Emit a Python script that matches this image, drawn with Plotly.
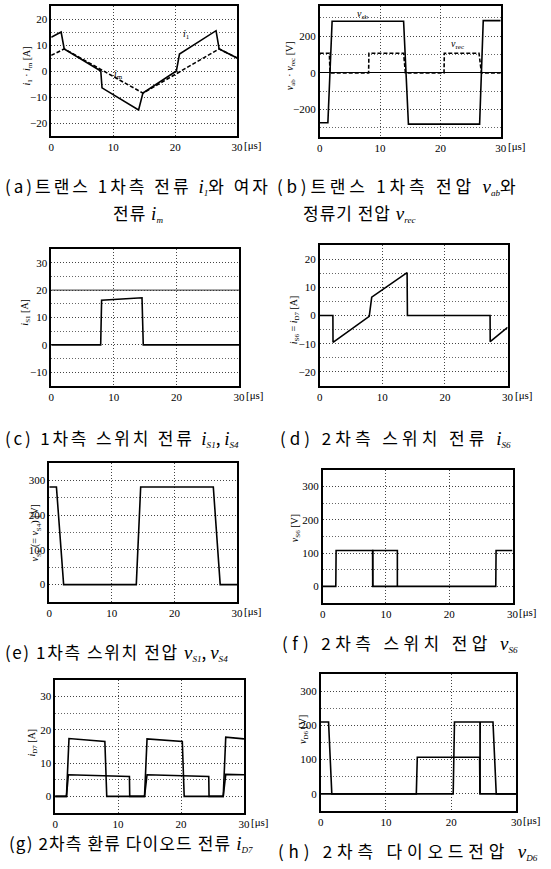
import plotly.graph_objects as go

W, H = 551, 869

# ---------------- data (time in microseconds) ----------------
a_t_i1 = [0, 1.6, 2.1, 8.0, 8.2, 14.1, 14.8, 20.2, 20.7, 26.6, 27.1, 30]
a_i1 = [13, 15, 8.5, 0, -6.5, -15, -8.5, 0, 6.5, 15.5, 8.5, 5]
a_t_im = [0, 2.1, 14.8, 27.1, 30]
a_im = [6, 8.5, -8.5, 8.5, 5]

b_t_vab = [0, 1.35, 2.05, 13.9, 14.7, 26.5, 27.1, 30]
b_vab = [-272, -272, 282, 282, -280, -280, 285, 285]
b_t_vrec = [0, 1.6, 1.7, 8.1, 8.15, 13.9, 14.2, 20.6, 20.65, 26.4, 26.8, 30]
b_vrec = [107, 107, 0, 0, 107, 107, 0, 0, 107, 107, 0, 0]

c_t = [0, 7.9, 8.05, 14.5, 14.7, 30]
c_iS1 = [0, 0, 16.3, 17.2, 0, 0]

d_t = [0, 2.1, 2.12, 7.9, 8.3, 13.95, 14.0, 27.2, 27.22, 30]
d_iS6 = [0, 0, -9.5, -0.3, 6.5, 15.2, 0, 0, -9.3, -4.2]

e_t = [0, 1.15, 2.3, 13.9, 14.6, 26.2, 27.3, 30]
e_vS1 = [281, 281, 0, 0, 281, 281, 0, 0]

f_t_main = [0, 2.07, 2.12, 7.9, 7.92, 27.35, 27.4, 30]
f_vS6_main = [0, 0, 108, 108, 0, 0, 108, 108]
f_t_box = [7.9, 7.9, 11.8, 11.8]
f_vS6_box = [0, 108, 108, 0]

g_t_a = [0, 1.8, 2.2, 7.9, 8.2, 14.2, 14.6, 20.2, 20.5, 26.7, 27.1, 30]
g_ia = [0, 0, 17.4, 16.5, 0, 0, 17.3, 16.5, 0, 0, 17.8, 17.3]
g_t_b = [0, 1.8, 2.1, 11.8, 11.85, 14.2, 14.6, 24.4, 24.45, 26.7, 27.1, 30]
g_ib = [0, 0, 6.5, 6.0, 0, 0, 6.5, 6.0, 0, 0, 6.6, 6.5]

h_t_a = [0, 1.2, 1.7, 20.3, 20.5, 24.4, 24.42, 24.44, 26.4, 26.9, 30]
h_va = [210, 210, 0, 0, 210, 210, 0, 210, 210, 0, 0]
h_t_b = [0, 14.65, 14.8, 24.35, 24.4, 30]
h_vb = [0, 0, 107, 107, 0, 0]

x_ticks = [0, 10, 20, 30]

# ---------------- layout geometry (pixels) ----------------
# (left, right, top, bottom, yrange, major dtick, minor dtick)
panels = [
    (49, 238, 6, 136, [-25, 25], 10, 5),
    (322, 506, 6, 137, [-350, 365], 200, 100),
    (49, 240, 249, 386, [-15, 35], 10, 5),
    (322, 513, 245, 386, [-25, 25], 10, 5),
    (47, 238, 463, 602, [-50, 350], 100, 50),
    (325, 518, 470, 603, [-50, 350], 100, 50),
    (53, 245, 680, 813, [-5, 35], 10, 5),
    (323, 522, 674, 811, [-50, 350], 100, 50),
]

series = [
    [(a_t_i1, a_i1, 'solid'), (a_t_im, a_im, 'dash')],
    [(b_t_vab, b_vab, 'solid'), (b_t_vrec, b_vrec, 'dash')],
    [(c_t, c_iS1, 'solid')],
    [(d_t, d_iS6, 'solid')],
    [(e_t, e_vS1, 'solid')],
    [(f_t_main, f_vS6_main, 'solid'), (f_t_box, f_vS6_box, 'solid')],
    [(g_t_a, g_ia, 'solid'), (g_t_b, g_ib, 'solid')],
    [(h_t_a, h_va, 'solid'), (h_t_b, h_vb, 'solid')],
]

SERIF = "Liberation Serif"
KR = "Noto Sans CJK KR"

fig = go.Figure()
layout = {}
annotations = []

for i, (p, ss) in enumerate(zip(panels, series), start=1):
    l, r, t, b, yr, dt, mdt = p
    xa = 'x' if i == 1 else f'x{i}'
    ya = 'y' if i == 1 else f'y{i}'
    for (tt, vv, dash) in ss:
        fig.add_trace(go.Scatter(x=tt, y=vv, mode='lines', xaxis=xa, yaxis=ya,
                                 line=dict(color='black', width=1.6,
                                           dash=('4px,2px' if dash == 'dash' else dash)),
                                 showlegend=False, hoverinfo='skip'))
    common = dict(showline=True, mirror=True, linecolor='black', linewidth=1.5,
                  ticks='', tickfont=dict(family=SERIF, size=11, color='black'),
                  showgrid=True, gridcolor='#444', griddash='1px,2px', gridwidth=1)
    layout['xaxis' if i == 1 else f'xaxis{i}'] = dict(
        common, domain=[l / W, r / W], range=[0, 30], tickmode='array',
        tickvals=x_ticks, ticktext=[str(v) for v in x_ticks], zeroline=False,
        anchor=ya)
    layout['yaxis' if i == 1 else f'yaxis{i}'] = dict(
        common, domain=[1 - b / H, 1 - t / H], range=yr, tick0=0, dtick=dt,
        zeroline=(i == 2), zerolinecolor='black', zerolinewidth=1.3,
        minor=dict(tick0=0, dtick=mdt, showgrid=True, gridcolor='#666',
                   griddash='1px,2px', gridwidth=1, ticks=''),
        anchor=xa)
    annotations.append(dict(text='[μs]', xref='paper', yref='paper',
                            x=(r + 5) / W, y=1 - (b + 9) / H, xanchor='left',
                            yanchor='middle', showarrow=False,
                            font=dict(family=SERIF, size=11, color='black')))

# extra solid reference line seen in the scan
shapes = [
    dict(type='line', xref='x3', yref='y3', x0=0, x1=30, y0=20, y1=20,
         line=dict(color='#333', width=1)),
]


def var(sym, sub, size=19):
    return (f"<span style=\"font-family:'{SERIF}';font-style:italic;font-size:{size}px\">{sym}</span>"
            f"<span style=\"font-family:'{SERIF}';font-style:italic;font-size:{int(size*0.72)}px\"><sub>{sub}</sub></span>")


def kr(text, ls):
    return f"<span style=\"letter-spacing:{ls}px\">{text}</span>"


def ylab(text, px, py):
    annotations.append(dict(text=text, xref='paper', yref='paper', x=px / W, y=1 - py / H,
                            xanchor='center', yanchor='middle', textangle=-90,
                            showarrow=False, font=dict(family=SERIF, size=10, color='black')))


ylab("<i>i</i><sub>1</sub> · <i>i</i><sub>m</sub> [A]", 25, 66)
ylab("<i>v</i><sub>ab</sub> · <i>v</i><sub>rec</sub> [V]", 293, 66)
ylab("<i>i</i><sub>S1</sub> [A]", 22, 312)
ylab("<i>i</i><sub>S6</sub> = <i>i</i><sub>D7</sub> [A]", 296, 320)
ylab("<i>v</i><sub>S1</sub> (= <i>v</i><sub>S4</sub>) [V]", 33, 533)
ylab("<i>v</i><sub>S6</sub> [V]", 297, 528)
ylab("<i>i</i><sub>D7</sub> [A]", 29, 743)
ylab("<i>v</i><sub>D6</sub> [V]", 305, 730)


def inlab(text, xa, ya, x, y):
    annotations.append(dict(text=text, xref=xa, yref=ya, x=x, y=y, showarrow=False,
                            font=dict(family=SERIF, size=10, color='black')))


inlab("<i>i</i><sub>1</sub>", 'x', 'y', 21.8, 14.2)
inlab("<i>i</i><sub>m</sub>", 'x', 'y', 10.9, -1.3)
inlab("<i>v</i><sub>ab</sub>", 'x2', 'y2', 7.1, 320)
inlab("<i>v</i><sub>rec</sub>", 'x2', 'y2', 22.8, 157)


def cap(text, px, py):
    annotations.append(dict(text=text, xref='paper', yref='paper', x=px / W, y=1 - py / H,
                            xanchor='left', yanchor='middle', showarrow=False,
                            font=dict(family=KR, size=17, color='black')))


cap(kr("(a)트랜스 1차측 전류 ", 3) + var('i', '1') + kr("와 여자", 3), 0, 185)
cap(kr("전류 ", 1) + var('i', 'm'), 110, 212)
cap(kr("(b)트랜스 1차측 전압 ", 3.8) + var('v', 'ab') + kr("와", 1), 277, 185)
cap(kr("정류기 전압 ", 1) + var('v', 'rec'), 303, 212)
cap(kr("(c) 1차측 스위치 전류 ", 2.8) + var('i', 'S1') + ", " + var('i', 'S4'), 0, 437)
cap(kr("(d) 2차측 스위치 전류 ", 4) + var('i', 'S6'), 280, 437)
cap(kr("(e) 1차측 스위치 전압 ", 1.6) + var('v', 'S1') + ", " + var('v', 'S4'), 0, 651)
cap(kr("(f) 2차측 스위치 전압 ", 4.4) + var('v', 'S6'), 282, 642)
cap(kr("(g) 2차측 환류 다이오드 전류 ", 1.1) + var('i', 'D7'), 4, 842)
cap(kr("(h) 2차측 다이오드전압 ", 4.8) + var('v', 'D6'), 278, 850)

fig.update_layout(**layout)
fig.update_layout(width=W, height=H, margin=dict(l=0, r=0, t=0, b=0),
                  paper_bgcolor='white', plot_bgcolor='white',
                  annotations=annotations, shapes=shapes, showlegend=False)

fig.write_html("out.html", config={'displayModeBar': False},
               post_script="document.body.style.margin='0';document.body.style.overflow='hidden';")
